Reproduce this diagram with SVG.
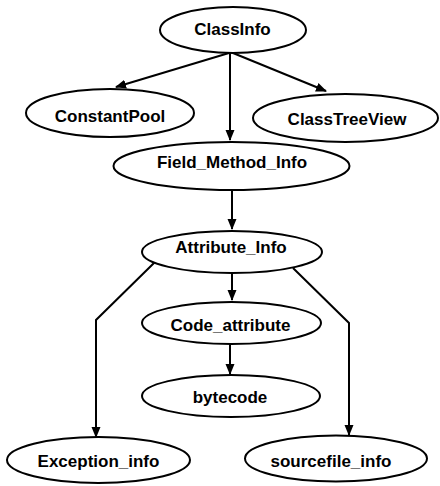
<svg xmlns="http://www.w3.org/2000/svg" width="440" height="486" viewBox="0 0 440 486">
  <style>
    .node ellipse { fill: #ffffff; stroke: #000000; stroke-width: 2; }
    .node text { font-family: "Liberation Sans", Arial, Helvetica, sans-serif; font-size: 17px; font-weight: bold; fill: #000000; text-anchor: middle; }
    .edge { fill: none; stroke: #000000; stroke-width: 2; marker-end: url(#arrow); }
  </style>
  <defs>
    <marker id="arrow" markerWidth="11" markerHeight="10" refX="10" refY="4.5" orient="auto" markerUnits="userSpaceOnUse">
      <path d="M0,0 L11,4.5 L0,9 Z" fill="#000000"/>
    </marker>
  </defs>
  <rect width="440" height="486" fill="#ffffff"/>

  <!-- connectors -->
  <g id="connectors">
    <path class="edge" d="M229,53 L116,87"/>
    <path class="edge" d="M230,53 L230,140"/>
    <path class="edge" d="M233,53 L326,91"/>
    <path class="edge" d="M232,190 L232,229"/>
    <path class="edge" d="M232,273 L232,300"/>
    <path class="edge" d="M230,343 L230,374"/>
    <path class="edge" d="M155,262 L96,320 L96,437"/>
    <path class="edge" d="M293,268 L349,323 L349,435"/>
  </g>

  <!-- nodes -->
  <g id="ClassInfo" class="node">
    <ellipse cx="233" cy="30" rx="73" ry="23"/>
    <text x="232.5" y="35">ClassInfo</text>
  </g>
  <g id="ConstantPool" class="node">
    <ellipse cx="110" cy="113" rx="84" ry="24"/>
    <text x="110" y="122">ConstantPool</text>
  </g>
  <g id="ClassTreeView" class="node">
    <ellipse cx="345.5" cy="118" rx="92.5" ry="24"/>
    <text x="347" y="125">ClassTreeView</text>
  </g>
  <g id="Field_Method_Info" class="node">
    <ellipse cx="231.5" cy="166" rx="118" ry="24"/>
    <text x="232" y="168">Field_Method_Info</text>
  </g>
  <g id="Attribute_Info" class="node">
    <ellipse cx="232" cy="252" rx="90" ry="21"/>
    <text x="231" y="253">Attribute_Info</text>
  </g>
  <g id="Code_attribute" class="node">
    <ellipse cx="231.5" cy="323" rx="89.5" ry="21"/>
    <text x="230.5" y="331">Code_attribute</text>
  </g>
  <g id="bytecode" class="node">
    <ellipse cx="231" cy="396" rx="89" ry="21"/>
    <text x="230" y="403">bytecode</text>
  </g>
  <g id="Exception_info" class="node">
    <ellipse cx="98.5" cy="460" rx="91.5" ry="23"/>
    <text x="98.5" y="467">Exception_info</text>
  </g>
  <g id="sourcefile_info" class="node">
    <ellipse cx="336" cy="458.5" rx="91" ry="23"/>
    <text x="331" y="467">sourcefile_info</text>
  </g>
</svg>
